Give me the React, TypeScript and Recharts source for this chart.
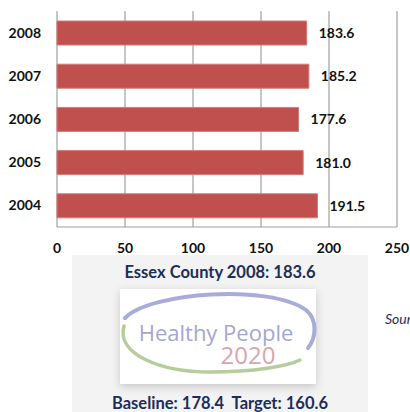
import { BarChart, Bar, XAxis, YAxis, CartesianGrid, LabelList } from "recharts";

// ── Data ─────────────────────────────────────────────────────────────────────

const YEARS = ["2008", "2007", "2006", "2005", "2004"];
const RATES = [183.6, 185.2, 177.6, 181.0, 191.5];
const X_TICKS = [0, 50, 100, 150, 200, 250];

const COUNTY_LINE = "Essex County 2008: 183.6";
const BENCH_LINE = "Baseline: 178.4  Target: 160.6";

const rows = YEARS.map((year, i) => ({ year, rate: RATES[i] }));

// ── Styles ───────────────────────────────────────────────────────────────────

const FONT = "Lato, 'Open Sans', sans-serif";
const BAR = "#c0504d";
const GRID = "#a0a0a0";
const NAVY = "#1c2d5a";

function YTick({ x, y, payload }: any) {
  return (
    <text x={x - 8} y={y} dy={5} textAnchor="end" fontFamily={FONT} fontWeight={700} fontSize={14} fill="#111">
      {payload.value}
    </text>
  );
}

function XTick({ x, y, payload }: any) {
  return (
    <text x={x} y={y} dy={18} textAnchor="middle" fontFamily={FONT} fontWeight={700} fontSize={14} fill="#111">
      {payload.value}
    </text>
  );
}

export default function App() {
  return (
    <div style={{ position: "absolute", left: 0, top: 0, width: 410, height: 412, background: "#fff", overflow: "hidden" }}>
      {/* Benchmark panel background */}
      <div style={{ position: "absolute", left: 72, top: 255, width: 296, height: 157, background: "#f3f3f3" }} />

      <div style={{ position: "absolute", left: 0, top: 0 }}>
        <BarChart
          width={410}
          height={262}
          data={rows}
          layout="vertical"
          margin={{ top: 11, right: 13, bottom: 0, left: 0 }}
          barSize={24}
        >
          <CartesianGrid horizontal={false} stroke={GRID} strokeWidth={1.2} />
          <XAxis
            type="number"
            domain={[0, 250]}
            ticks={X_TICKS}
            height={35}
            tick={<XTick />}
            tickLine={false}
            axisLine={{ stroke: GRID, strokeWidth: 1.2 }}
          />
          <YAxis
            type="category"
            dataKey="year"
            width={57}
            tick={<YTick />}
            tickLine={false}
            axisLine={false}
          />
          <Bar dataKey="rate" fill={BAR} stroke="#d27a77" strokeWidth={1} isAnimationActive={false}>
            <LabelList
              dataKey="rate"
              position="right"
              offset={12}
              formatter={(v: any) => Number(v).toFixed(1)}
              style={{ fontFamily: FONT, fontWeight: 700, fontSize: 14, fill: "#111" }}
            />
          </Bar>
        </BarChart>
      </div>

      <div style={{ position: "absolute", left: 72, top: 262, width: 296, textAlign: "center", fontFamily: FONT, fontWeight: 700, fontSize: 16.5, color: NAVY, whiteSpace: "nowrap", lineHeight: "20px" }}>
        {COUNTY_LINE}
      </div>
      <svg width={410} height={150} style={{ position: "absolute", left: 0, top: 262 }}>
        <defs>
          <filter id="shadow" x="-10%" y="-10%" width="120%" height="130%">
            <feDropShadow dx="0" dy="3" stdDeviation="4" floodColor="#000" floodOpacity="0.18" />
          </filter>
        </defs>
        <rect x={120} y={27} width={196} height={95} fill="#fff" filter="url(#shadow)" />
        <path d="M 125 56 C 150 30, 270 22, 306 48 C 318 58, 316 76, 308 86" fill="none" stroke="#a9acd8" strokeWidth={4} strokeLinecap="round" />
        <path d="M 124 64 C 116 92, 160 110, 210 110 C 255 110, 288 104, 300 98" fill="none" stroke="#b6cc9c" strokeWidth={3.5} strokeLinecap="round" />
        <text x={216} y={79} textAnchor="middle" fontFamily="'Open Sans', sans-serif" fontSize={22} fill="#a3a6d4">
          Healthy People
        </text>
        <text x={248} y={102} textAnchor="middle" fontFamily="'Open Sans', sans-serif" fontSize={24} fill="#d9a5ad">
          2020
        </text>
        <text x={385} y={62} fontFamily={FONT} fontStyle="italic" fontSize={14} fill={NAVY}>
          Source
        </text>
      </svg>
      <div style={{ position: "absolute", left: 20, top: 393, width: 400, textAlign: "center", fontFamily: FONT, fontWeight: 700, fontSize: 16.5, color: NAVY, whiteSpace: "pre", lineHeight: "20px" }}>
        {BENCH_LINE}
      </div>
    </div>
  );
}
